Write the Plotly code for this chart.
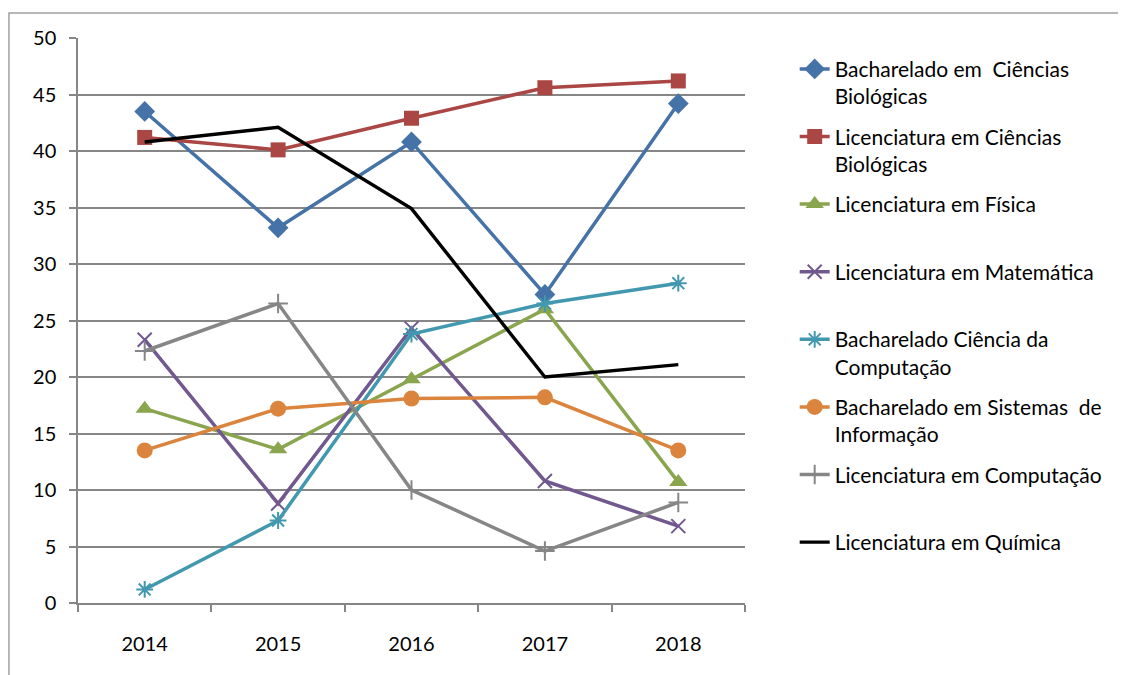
import plotly.graph_objects as go

years = ["2014", "2015", "2016", "2017", "2018"]

bach_bio = [43.5, 33.2, 40.8, 27.3, 44.2]
lic_bio = [41.2, 40.1, 42.9, 45.6, 46.2]
lic_fis = [17.2, 13.6, 19.8, 26.0, 10.7]
lic_mat = [23.3, 8.8, 24.3, 10.8, 6.8]
bach_cc = [1.2, 7.3, 23.8, 26.5, 28.3]
bach_si = [13.5, 17.2, 18.1, 18.2, 13.5]
lic_comp = [22.3, 26.5, 10.0, 4.6, 8.9]
lic_qui = [40.8, 42.1, 34.9, 20.0, 21.1]

series = [
    ("Bacharelado em  Ciências<br>Biológicas", bach_bio, "#4572A7", "diamond", 16, "lines+markers"),
    ("Licenciatura em Ciências<br>Biológicas", lic_bio, "#AA4643", "square", 15, "lines+markers"),
    ("Licenciatura em Física<br> ", lic_fis, "#89A54E", "triangle-up", 16, "lines+markers"),
    ("Licenciatura em Matemática<br> ", lic_mat, "#71588F", "x-thin-open", 14, "lines+markers"),
    ("Bacharelado Ciência da<br>Computação", bach_cc, "#4198AF", "asterisk-open", 14, "lines+markers"),
    ("Bacharelado em Sistemas  de<br>Informação", bach_si, "#DB843D", "circle", 16, "lines+markers"),
    ("Licenciatura em Computação<br> ", lic_comp, "#868686", "cross-thin-open", 14, "lines+markers"),
    ("Licenciatura em Química<br> ", lic_qui, "#000000", "circle", 1, "lines"),
]

fig = go.Figure()
for i, (name, vals, color, sym, size, mode) in enumerate(series):
    marker = dict(symbol=sym, size=size, color=color)
    if "open" in sym:
        marker["line"] = dict(color=color, width=2)
    fig.add_trace(go.Scatter(
        x=years, y=vals, name=name, mode=mode,
        line=dict(color=color, width=3.5 if mode != "lines" else 3.4),
        marker=marker, legendgroup="g%d" % i,
    ))

# page body has an 8px default margin: compensate so plot area lands at x 78-745, y 38-603
fig.update_layout(
    width=1126, height=675,
    margin=dict(l=70, r=389, t=30, b=80),
    paper_bgcolor="white", plot_bgcolor="white",
    font=dict(family="Lato, Open Sans, sans-serif", size=20, color="#000000"),
    showlegend=True,
    legend=dict(
        x=1.0745, xanchor="left", y=0.981, yanchor="top",
        valign="top", tracegroupgap=10,
        font=dict(size=21, color="#000000"),
        bgcolor="rgba(0,0,0,0)",
    ),
    shapes=[dict(type="rect", xref="paper", yref="paper",
                 x0=-0.1035, x1=1.6, y0=-0.2, y1=1.0442,
                 line=dict(color="#A0A0A0", width=1.5), layer="below")],
)
fig.update_xaxes(
    type="category", showgrid=False, showline=True, linecolor="#868686", linewidth=1.5,
    ticks="outside", tickson="boundaries", ticklen=7, tickcolor="#868686", tickwidth=1.5,
    tickfont=dict(size=20), range=[-0.5, 4.5], ticklabelstandoff=22,
)
fig.update_yaxes(
    range=[0, 50], dtick=5, showgrid=True, gridcolor="#868686", gridwidth=1.5,
    showline=True, linecolor="#868686", linewidth=1.5,
    ticks="outside", ticklen=7, tickcolor="#868686", tickwidth=1.5,
    tickfont=dict(size=20), zeroline=False, ticklabelstandoff=9,
)
fig.write_html("out.html")
